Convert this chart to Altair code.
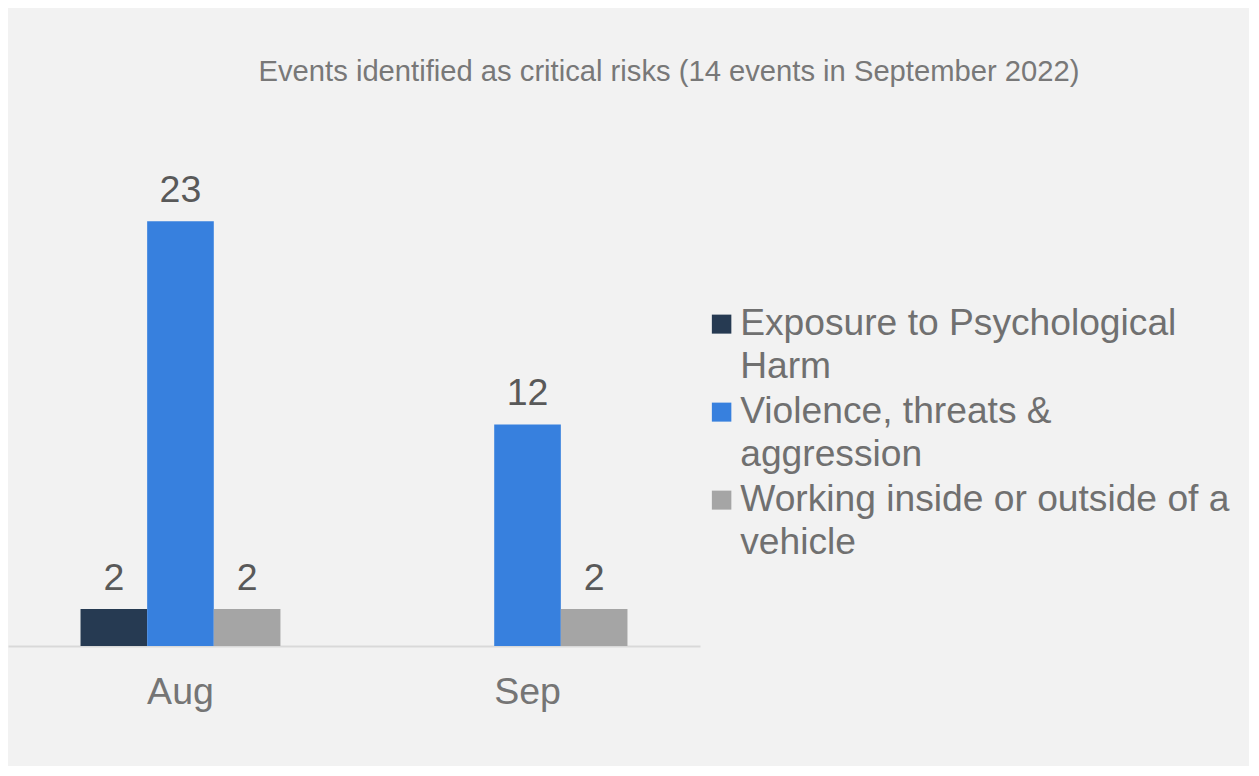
import altair as alt
import pandas as pd

months = ["Aug", "Sep"]
series = [
    "Exposure to Psychological Harm",
    "Violence, threats & aggression",
    "Working inside or outside of a vehicle",
]
exposure = [2, None]
violence = [23, 12]
working = [2, 2]
colors = ["#263a52", "#3780de", "#a5a5a5"]
title_text = "Events identified as critical risks (14 events in September 2022)"

rows = []
for s, vals in zip(series, [exposure, violence, working]):
    for m, v in zip(months, vals):
        if v is not None:
            rows.append({"month": m, "series": s, "value": v})
df = pd.DataFrame(rows)

font = "Liberation Sans"

label_expr = (
    "split(datum.label == 'Exposure to Psychological Harm' ? 'Exposure to Psychological|Harm' : "
    "datum.label == 'Violence, threats & aggression' ? 'Violence, threats &|aggression' : "
    "'Working inside or outside of a|vehicle', '|')"
)

base = alt.Chart(df).encode(
    x=alt.X(
        "month:N",
        sort=months,
        scale=alt.Scale(paddingInner=0.424, paddingOuter=0.209),
        axis=alt.Axis(
            title=None,
            labelAngle=0,
            labelFont=font,
            labelFontSize=37.5,
            labelColor="#757575",
            labelPadding=27,
            ticks=False,
            domainColor="#d9d9d9",
            domainWidth=2,
            grid=False,
        ),
    ),
    xOffset=alt.XOffset(
        "series:N",
        sort=series,
        scale=alt.Scale(paddingInner=0, paddingOuter=0),
    ),
    y=alt.Y("value:Q", scale=alt.Scale(domain=[0, 30]), axis=None),
)

bars = base.mark_bar().encode(
    color=alt.Color(
        "series:N",
        sort=series,
        scale=alt.Scale(domain=series, range=colors),
        legend=alt.Legend(
            title=None,
            orient="none",
            legendX=695,
            legendY=224,
            symbolType="M-1,-2.05H1V-0.1H-1Z",
            symbolSize=380,
            symbolStrokeWidth=0,
            labelFont=font,
            labelFontSize=37.2,
            labelColor="#707070",
            labelOffset=0,
            labelLimit=600,
            labelBaseline="alphabetic",
            labelExpr=label_expr,
            rowPadding=7,
        ),
    )
)

labels = base.mark_text(
    baseline="alphabetic",
    dy=-19,
    font=font,
    fontSize=37.5,
    color="#595959",
).encode(text=alt.Text("value:Q"))

chart = (
    alt.layer(bars, labels)
    .properties(
        width=692,
        height=554,
        autosize=alt.AutoSizeParams(type="none"),
        padding={"left": 0, "top": 84, "right": 549, "bottom": 120},
        background="#f2f2f2",
        title=alt.TitleParams(
            text=title_text,
            font=font,
            fontSize=29.2,
            fontWeight="normal",
            color="#787878",
            anchor="middle",
            frame="group",
            dx=315,
            dy=29,
            baseline="alphabetic",
            offset=11,
        ),
    )
    .configure(
        style={"guide-label": {"lineHeight": 43}},
        view=alt.ViewConfig(strokeWidth=0, stroke="transparent"),
    )
)

chart.save("out.html", embed_options={"renderer": "svg", "actions": False})
